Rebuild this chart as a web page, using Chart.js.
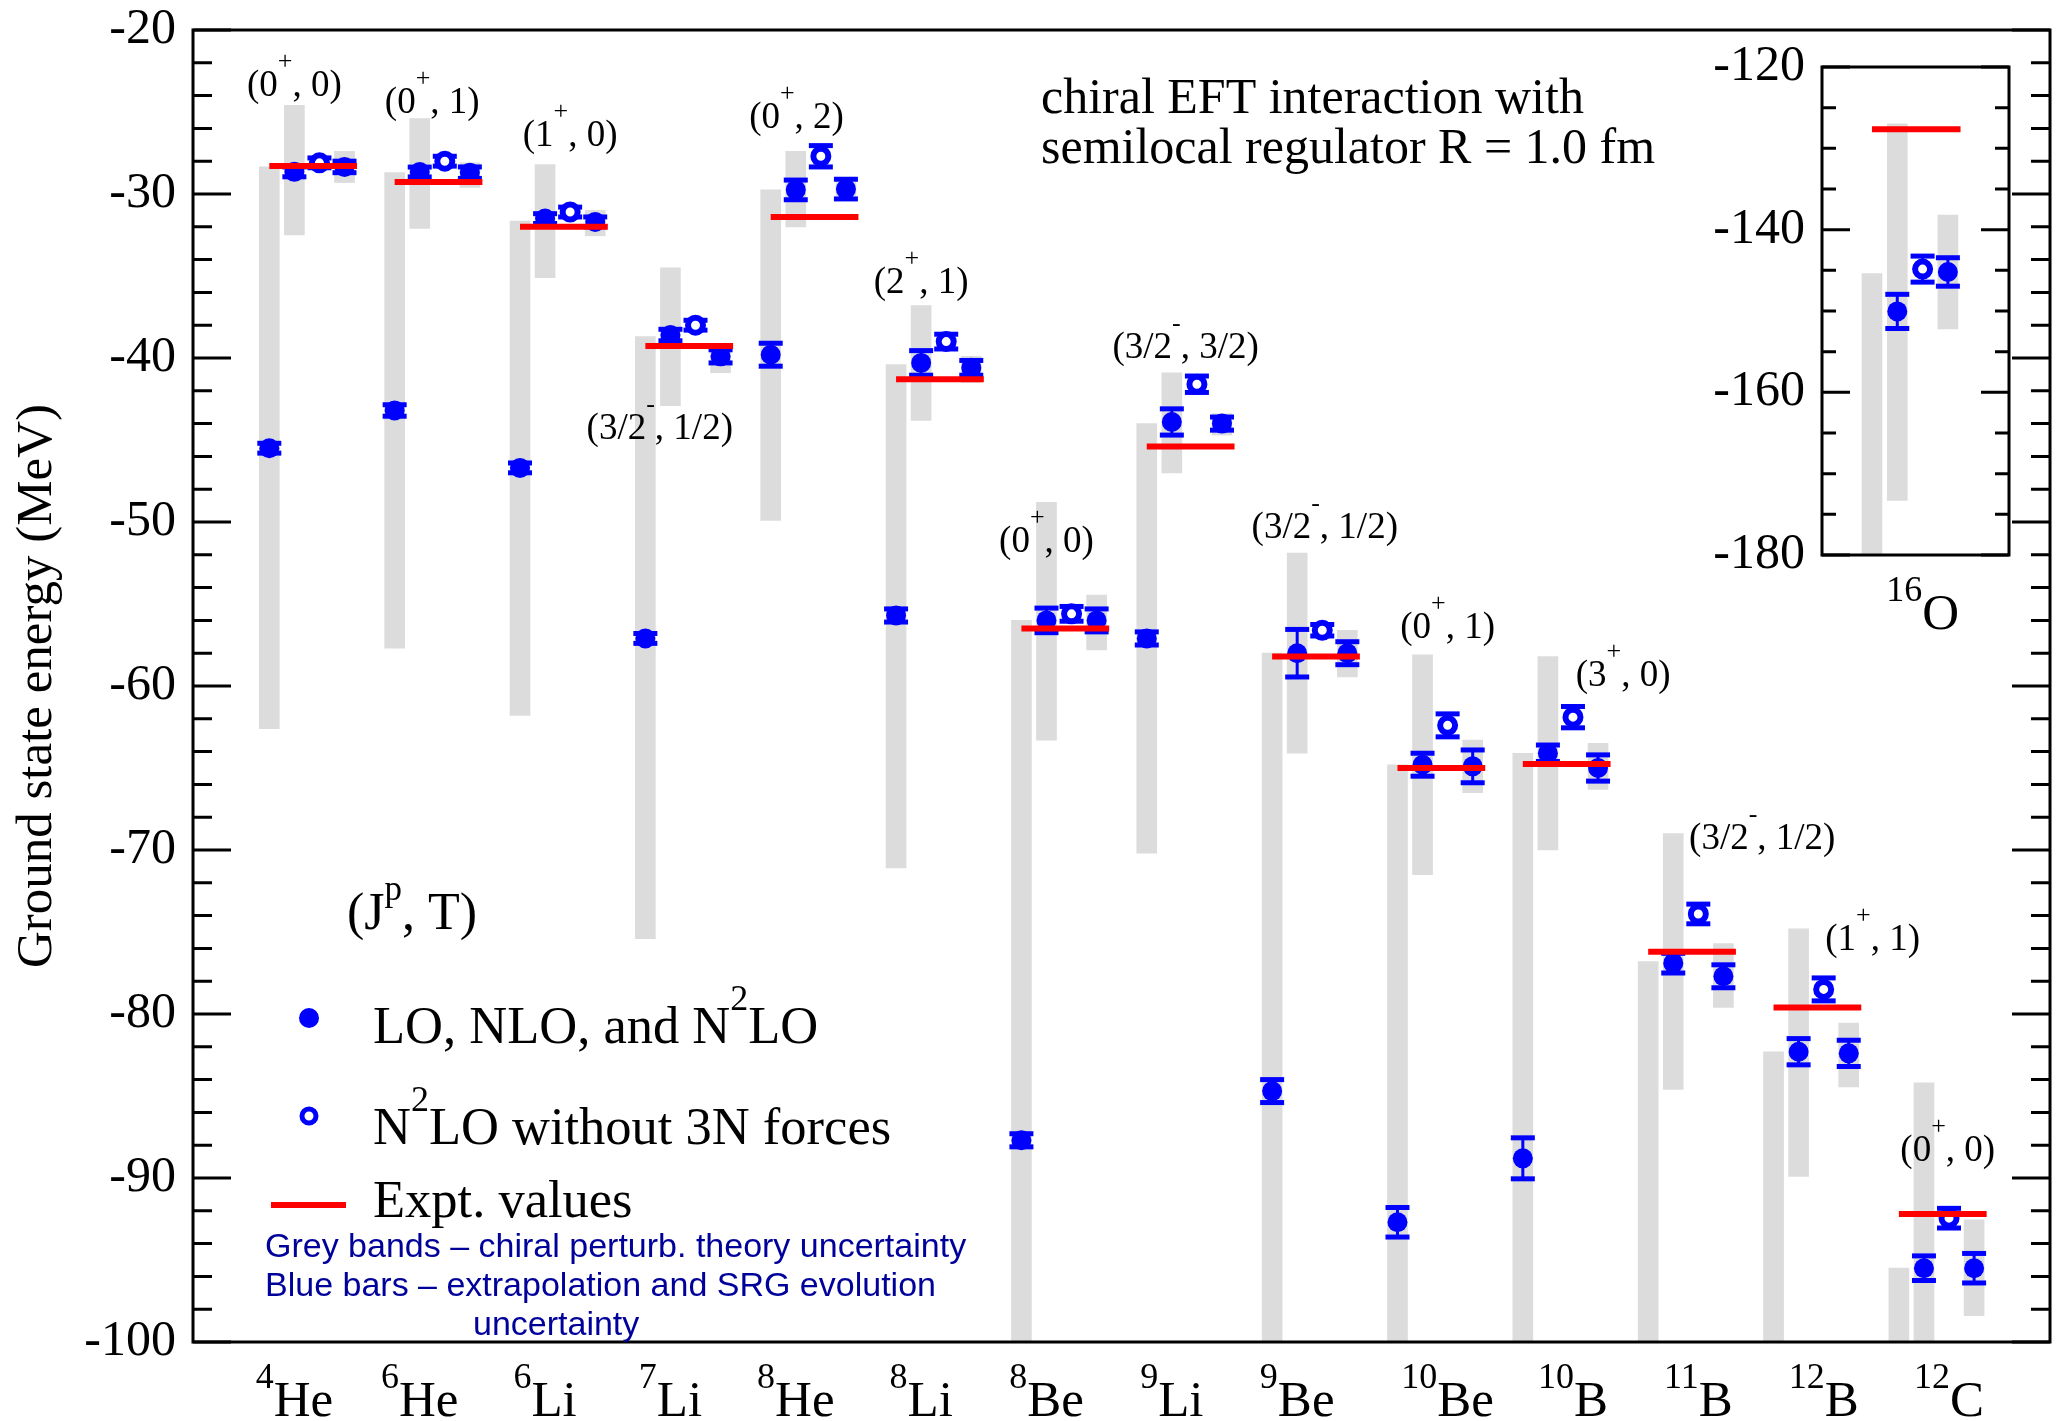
<!DOCTYPE html>
<html>
<head>
<meta charset="utf-8">
<title>Ground state energies of light nuclei</title>
<script src="https://cdn.jsdelivr.net/npm/chart.js@4.4.1/dist/chart.umd.min.js"></script>
<style>
  html, body { margin: 0; padding: 0; background: #fff; overflow: hidden; }
  #page { position: relative; width: 2062px; height: 1421px; overflow: hidden; background: #fff; }
  #main { position: absolute; left: 0; top: 0; }
  #inset { position: absolute; left: 1690px; top: 0; }
</style>
</head>
<body>
<div id="page">
  <canvas id="main" width="2067" height="1421"></canvas>
  <canvas id="inset" width="340" height="660"></canvas>
</div>
<script>
// nuclei along the x axis
const massNumbers = [4, 6, 6, 7, 8, 8, 8, 9, 9, 10, 10, 11, 12, 12];
const elements = ['He', 'He', 'Li', 'Li', 'He', 'Li', 'Be', 'Li', 'Be', 'Be', 'B', 'B', 'B', 'C'];

// (J^p, T) of each ground state
const spinJ = ['0', '0', '1', '3/2', '0', '2', '0', '3/2', '3/2', '0', '3', '3/2', '1', '0'];
const parity = ['+', '+', '+', '-', '+', '+', '+', '-', '-', '+', '+', '-', '+', '+'];
const isospinT = ['0', '1', '0', '1/2', '2', '1', '0', '3/2', '1/2', '1', '0', '1/2', '1', '0'];

// experimental ground state energies (MeV)
const expt = [-28.3, -29.27, -32.0, -39.27, -31.4, -41.3, -56.5, -45.4, -58.2, -65.0, -64.75, -76.2, -79.6, -92.2];

// LO (11B, 12B, 12C are below the plotted range)
const loEnergy = [-45.5, -43.2, -46.7, -57.1, -39.8, -55.7, -87.7, -57.1, -84.7, -92.7, -88.8, null, null, null];
const loError = [0.3, 0.35, 0.3, 0.3, 0.7, 0.4, 0.4, 0.4, 0.7, 0.9, 1.25, null, null, null];
const loBand = [[-62.6, -28.35], [-57.7, -28.7], [-61.8, -31.65], [-75.4, -38.7], [-49.9, -29.75], [-71.1, -40.4],
  [-100, -56.0], [-70.2, -44.0], [-100, -58.0], [-100, -64.8], [-100, -64.1], [-100, -76.8], [-100, -82.3], [-100, -95.5]];

// NLO
const nloEnergy = [-28.65, -28.66, -31.5, -38.6, -29.75, -40.3, -56.0, -43.9, -58.0, -64.8, -64.1, -76.9, -82.3, -95.5];
const nloError = [0.3, 0.3, 0.3, 0.35, 0.6, 0.75, 0.75, 0.8, 1.45, 0.7, 0.5, 0.6, 0.8, 0.75];
const nloBand = [[-32.5, -24.6], [-32.1, -25.4], [-35.1, -28.2], [-42.9, -34.5], [-32.0, -27.4], [-43.8, -36.8],
  [-63.3, -48.8], [-47.0, -40.9], [-64.1, -51.9], [-71.5, -58.1], [-70.0, -58.2], [-84.6, -69.0], [-89.9, -74.8], [-100, -84.2]];

// N2LO without 3N forces
const no3nEnergy = [-28.1, -28.0, -31.1, -38.0, -27.7, -39.0, -55.6, -41.6, -56.6, -62.4, -61.9, -73.9, -78.5, -92.45];
const no3nError = [0.3, 0.3, 0.3, 0.3, 0.65, 0.45, 0.45, 0.5, 0.35, 0.7, 0.65, 0.6, 0.7, 0.6];

// N2LO
const n2loEnergy = [-28.35, -28.7, -31.7, -39.9, -29.7, -40.6, -56.0, -44.0, -58.0, -64.9, -65.0, -77.7, -82.4, -95.5];
const n2loError = [0.35, 0.35, 0.3, 0.4, 0.6, 0.45, 0.7, 0.4, 0.7, 1.0, 0.8, 0.7, 0.8, 0.9];
const n2loBand = [[-29.3, -27.4], [-29.6, -28.1], [-32.55, -31.0], [-40.9, -39.1], [-30.1, -29.3], [-41.5, -39.9],
  [-57.8, -54.45], [-44.7, -43.4], [-59.45, -56.6], [-66.5, -63.3], [-66.3, -63.5], [-79.6, -75.7], [-84.45, -80.55], [-98.4, -92.55]];

// 16O, shown in the inset (LO lies below -180 MeV)
const o16Mass = [16];
const o16Element = ['O'];
const o16Expt = [-127.65];
const o16Lo = [null];
const o16LoError = [null];
const o16LoBand = [[-180, -145.4]];
const o16Nlo = [-150.05];
const o16NloError = [2.1];
const o16NloBand = [[-173.3, -127.0]];
const o16No3n = [-144.85];
const o16No3nError = [1.6];
const o16N2lo = [-145.2];
const o16N2loError = [1.75];
const o16N2loBand = [[-152.2, -138.2]];

// where each (J^p, T) label sits: [x offset from the nucleus, energy]
const spinLabelAt = [[0.2, -23.5], [0.3, -24.5], [0.4, -26.5], [0.115, -44.4], [0.206, -25.4], [0.2, -35.5], [0.2, -51.3],
  [0.31, -39.45], [0.42, -50.4], [0.4, -56.5], [0.8, -59.45], [0.91, -69.4], [0.79, -75.55], [0.39, -88.4]];

const BLUE = '#0000ff';
const RED = '#ff0000';
const GREY = '#dcdcdc';
const NOTE = '#00009a';
const SERIF = '"Liberation Serif", "Times New Roman", serif';
const SANS = '"Liberation Sans", Arial, sans-serif';
const fnt = (size, family) => size + 'px ' + (family || SERIF);

// LO, NLO, N2LO w/o 3N, N2LO sit side by side inside one nucleus
const seriesOffset = [0, 0.2, 0.4, 0.6];
const exptLength = 0.7;

function buildDatasets(exptValues, energies, errors, bands) {
    const bandData = [], exptData = [], stems = [], caps = [], filled = [], open = [];
    exptValues.forEach((e, k) => {
        exptData.push({x: k, y: e}, {x: k + exptLength, y: e}, {x: k + exptLength, y: null});
        energies.forEach((vals, s) => {
            const x = k + seriesOffset[s];
            if (bands[s]) bandData.push({x: x, y: bands[s][k]});
            const v = vals[k];
            if (v === null) return;
            const err = errors[s][k];
            stems.push({x: x, y: v - err}, {x: x, y: v + err}, {x: x, y: null});
            caps.push({x: x, y: v - err}, {x: x, y: v + err});
            (s === 2 ? open : filled).push({x: x, y: v});
        });
    });
    return [
        {type: 'bar', data: bandData, backgroundColor: GREY, borderWidth: 0, barThickness: 20, clip: 0, order: 5},
        {type: 'line', data: stems, borderColor: BLUE, borderWidth: 3, pointRadius: 0, spanGaps: false, order: 4},
        {type: 'scatter', data: caps, pointStyle: 'line', pointRadius: 12, borderColor: BLUE, borderWidth: 5, order: 3},
        {type: 'scatter', data: filled, pointStyle: 'circle', pointRadius: 10, backgroundColor: BLUE, borderWidth: 0, order: 2},
        {type: 'scatter', data: open, pointStyle: 'circle', pointRadius: 7.5, backgroundColor: '#fff', borderColor: BLUE, borderWidth: 6, order: 2},
        {type: 'line', data: exptData, borderColor: RED, borderWidth: 6, pointRadius: 0, spanGaps: false, order: 1}
    ];
}

// text with superscripts: parts = [text, font, rise]
function drawRich(ctx, parts, x, y, align) {
    let width = 0;
    parts.forEach(p => { ctx.font = p[1]; width += ctx.measureText(p[0]).width; });
    let cx = align === 'center' ? x - width / 2 : x;
    ctx.textAlign = 'left';
    ctx.textBaseline = 'alphabetic';
    parts.forEach(p => {
        ctx.font = p[1];
        ctx.fillText(p[0], cx, y - (p[2] || 0));
        cx += ctx.measureText(p[0]).width;
    });
}

// box with inward ticks on left and right
function framePlugin(major, majorLen, minorLen, fillWhite) {
    return {
        id: 'frame',
        beforeDraw(chart) {
            if (!fillWhite) return;
            const {ctx, chartArea: a} = chart;
            ctx.save();
            ctx.fillStyle = '#fff';
            ctx.fillRect(a.left, a.top, a.right - a.left, a.bottom - a.top);
            ctx.restore();
        },
        afterDraw(chart) {
            const {ctx, chartArea: a, scales: {y}} = chart;
            ctx.save();
            ctx.strokeStyle = '#000';
            ctx.lineWidth = 3;
            ctx.beginPath();
            y.ticks.forEach(t => {
                const py = y.getPixelForValue(t.value);
                const len = Math.round(t.value) % major === 0 ? majorLen : minorLen;
                ctx.moveTo(a.left, py);
                ctx.lineTo(a.left + len, py);
                ctx.moveTo(a.right, py);
                ctx.lineTo(a.right - len, py);
            });
            ctx.stroke();
            ctx.strokeRect(a.left, a.top, a.right - a.left, a.bottom - a.top);
            ctx.restore();
        }
    };
}

// nucleus names under the axis, e.g. 4He
function nuclidePlugin(masses, symbols) {
    return {
        id: 'nuclides',
        afterDraw(chart) {
            const {ctx, chartArea: a, scales: {x}} = chart;
            ctx.save();
            ctx.fillStyle = '#000';
            masses.forEach((m, k) => {
                const cx = x.getPixelForValue(k + (m >= 10 ? 0.4 : 0.2));
                drawRich(ctx, [[String(m), fnt(36), 28], [symbols[k], fnt(51), 0]], cx, a.bottom + 74, 'center');
            });
            ctx.restore();
        }
    };
}

const mainNotes = {
    id: 'mainNotes',
    afterDraw(chart) {
        const {ctx, chartArea: a, scales: {x, y}} = chart;
        const L = a.left, B = a.bottom;
        ctx.save();
        ctx.fillStyle = '#000';

        spinJ.forEach((j, k) => {
            const at = spinLabelAt[k];
            drawRich(ctx, [['(' + j, fnt(37), 0], [parity[k], fnt(26), 27], [', ' + isospinT[k] + ')', fnt(37), 0]],
                x.getPixelForValue(k + at[0]), y.getPixelForValue(at[1]) + 9, 'center');
        });

        drawRich(ctx, [['chiral EFT interaction with', fnt(50), 0]], L + 848, a.top + 83);
        drawRich(ctx, [['semilocal regulator R = 1.0 fm', fnt(50), 0]], L + 848, a.top + 133);

        // legend
        drawRich(ctx, [['(J', fnt(52), 0], ['p', fnt(35), 29], [', T)', fnt(52), 0]], L + 154, B - 413);
        drawRich(ctx, [['LO, NLO, and N', fnt(52.5), 0], ['2', fnt(36), 33], ['LO', fnt(52.5), 0]], L + 180, B - 299);
        drawRich(ctx, [['N', fnt(52.5), 0], ['2', fnt(36), 33], ['LO without 3N forces', fnt(52.5), 0]], L + 180, B - 198);
        drawRich(ctx, [['Expt. values', fnt(52.5), 0]], L + 180, B - 125);

        ctx.fillStyle = BLUE;
        Chart.helpers.drawPoint(ctx, {pointStyle: 'circle', radius: 10, borderWidth: 0}, L + 116, B - 324);
        ctx.fillStyle = '#fff';
        ctx.strokeStyle = BLUE;
        ctx.lineWidth = 5;
        Chart.helpers.drawPoint(ctx, {pointStyle: 'circle', radius: 7, borderWidth: 5}, L + 116, B - 226);

        ctx.strokeStyle = RED;
        ctx.lineWidth = 6;
        ctx.beginPath();
        ctx.moveTo(L + 78, B - 137);
        ctx.lineTo(L + 153, B - 137);
        ctx.stroke();

        ctx.fillStyle = NOTE;
        drawRich(ctx, [['Grey bands \u2013 chiral perturb. theory uncertainty', fnt(34, SANS), 0]], L + 72, B - 85);
        drawRich(ctx, [['Blue bars \u2013 extrapolation and SRG evolution', fnt(34, SANS), 0]], L + 72, B - 46);
        drawRich(ctx, [['uncertainty', fnt(34, SANS), 0]], L + 280, B - 7);
        ctx.restore();
    }
};

function axisOptions(xMin, xMax, yMin, yMax, step, labelEvery, yWidth, xHeight, title) {
    return {
        x: {
            type: 'linear', min: xMin, max: xMax, offset: false,
            grid: {display: false, drawTicks: false},
            border: {display: false},
            ticks: {display: false},
            afterFit: s => { s.height = xHeight; }
        },
        y: {
            type: 'linear', min: yMin, max: yMax,
            grid: {display: false, drawTicks: false},
            border: {display: false},
            ticks: {
                stepSize: step, autoSkip: false, padding: 17, color: '#000',
                font: {family: SERIF, size: 50, lineHeight: 0.5},
                callback: v => Math.round(v) % labelEvery === 0 ? String(Math.round(v)) : ''
            },
            title: title ? {display: true, text: title, color: '#000', font: {family: SERIF, size: 51}, padding: {top: 7, bottom: 0}} : {display: false},
            afterFit: s => { s.width = yWidth; }
        }
    };
}

new Chart(document.getElementById('main'), {
    type: 'scatter',
    data: {
        datasets: buildDatasets(expt,
            [loEnergy, nloEnergy, no3nEnergy, n2loEnergy],
            [loError, nloError, no3nError, n2loError],
            [loBand, nloBand, null, n2loBand])
    },
    options: {
        responsive: false,
        animation: false,
        events: [],
        layout: {padding: {top: 30, right: 0, bottom: 0, left: 0}},
        plugins: {legend: {display: false}, tooltip: {enabled: false}},
        scales: axisOptions(-0.6087, 14.2055, -100, -20, 2, 10, 193, 79, 'Ground state energy (MeV)')
    },
    plugins: [framePlugin(10, 38, 19, false), nuclidePlugin(massNumbers, elements), mainNotes]
});

new Chart(document.getElementById('inset'), {
    type: 'scatter',
    data: {
        datasets: buildDatasets(o16Expt,
            [o16Lo, o16Nlo, o16No3n, o16N2lo],
            [o16LoError, o16NloError, o16No3nError, o16N2loError],
            [o16LoBand, o16NloBand, null, o16N2loBand])
    },
    options: {
        responsive: false,
        animation: false,
        events: [],
        layout: {padding: {top: 67, right: 21, bottom: 0, left: 0}},
        plugins: {legend: {display: false}, tooltip: {enabled: false}},
        scales: axisOptions(-0.395, 1.083, -180, -120, 5, 20, 132, 105, null)
    },
    plugins: [framePlugin(20, 28, 14, true), nuclidePlugin(o16Mass, o16Element)]
});
</script>
</body>
</html>
